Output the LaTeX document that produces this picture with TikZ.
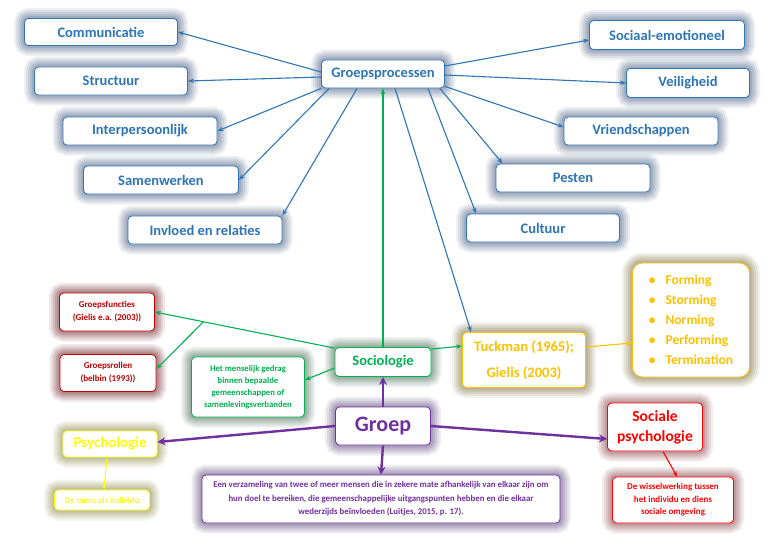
\documentclass[tikz,border=0pt]{standalone}
\usepackage{fontspec}
\setmainfont{Carlito}
\usetikzlibrary{arrows.meta,calc}
\definecolor{bl}{HTML}{2E75B6}
\definecolor{blg}{HTML}{6F809C}
\definecolor{dred}{HTML}{C00000}
\definecolor{redg}{HTML}{8A4E52}
\definecolor{grn}{HTML}{00B050}
\definecolor{grng}{HTML}{6A8874}
\definecolor{gold}{HTML}{FFC000}
\definecolor{goldg}{HTML}{988C60}
\definecolor{purp}{HTML}{7030A0}
\definecolor{purpg}{HTML}{7C6A94}
\definecolor{yel}{HTML}{FFFF00}
\definecolor{yelg}{HTML}{A3A06A}
\definecolor{rd}{HTML}{FF0000}
\definecolor{rdg}{HTML}{A0666A}
\tikzset{
 box/.style={draw, fill=white, rounded corners=4pt, line width=0.8pt, align=center, inner sep=0pt, font=\bfseries},
 glow/.style={preaction={draw=#1,draw opacity=.12,line width=21pt},
              preaction={draw=#1,draw opacity=.15,line width=17pt},
              preaction={draw=#1,draw opacity=.18,line width=13pt},
              preaction={draw=#1,draw opacity=.22,line width=9pt},
              preaction={draw=#1,draw opacity=.28,line width=5pt}},
 bbox/.style={box, draw=bl, text=bl, glow=blg, font=\bfseries\fontsize{14.5}{17}\selectfont},
 barrow/.style={draw=bl, line width=1.1pt, -{Stealth[length=6pt,width=4.5pt]}},
 garrow/.style={draw=grn, line width=1.1pt, -{Stealth[length=6pt,width=4.5pt]}},
 parrow/.style={draw=purp, line width=2.4pt, -{Stealth[length=8pt,width=8pt]}},
}
\begin{document}
\begin{tikzpicture}[x=1pt,y=-1pt]
\useasboundingbox (0,0) rectangle (768,543);
% blue boxes
\node[bbox, minimum width=123pt, minimum height=28pt] (gp) at (383,74) {Groepsprocessen};
\node[bbox, minimum width=153pt, minimum height=27pt] (com) at (101,32) {Communicatie};
\node[bbox, minimum width=153pt, minimum height=28pt] (str) at (111,81) {Structuur};
\node[bbox, minimum width=154pt, minimum height=28pt] (int) at (140,131) {Interpersoonlijk};
\node[bbox, minimum width=155pt, minimum height=28pt] (sam) at (161,180) {Samenwerken};
\node[bbox, minimum width=154pt, minimum height=28pt] (inv) at (205,230) {Invloed en relaties};
\node[bbox, minimum width=155pt, minimum height=29pt] (soc) at (667,35) {Sociaal-emotioneel};
\node[bbox, minimum width=123pt, minimum height=29pt] (vei) at (688,83) {Veiligheid};
\node[bbox, minimum width=154pt, minimum height=28pt] (vri) at (641,131) {Vriendschappen};
\node[bbox, minimum width=154pt, minimum height=28pt] (pes) at (573,178) {Pesten};
\node[bbox, minimum width=153pt, minimum height=28pt] (cul) at (543,228) {Cultuur};
% red boxes
\node[box, draw=dred, text=dred, glow=redg, minimum width=95pt, minimum height=38pt, font=\bfseries\fontsize{9}{13}\selectfont] (gf) at (107,312) {Groepsfuncties\\(Gielis e.a. (2003))};
\node[box, draw=dred, text=dred, glow=redg, minimum width=96pt, minimum height=37pt, font=\bfseries\fontsize{9}{13}\selectfont] (gr) at (108,373) {Groepsrollen\\(belbin (1993))};
% green boxes
\node[box, draw=grn, text=grn, glow=grng, minimum width=113pt, minimum height=60pt, font=\bfseries\fontsize{8.7}{12}\selectfont] (hm) at (248,387) {Het menselijk gedrag\\binnen bepaalde\\gemeenschappen of\\samenlevingsverbanden};
\node[box, draw=grn, text=grn, glow=grng, minimum width=96pt, minimum height=29pt, font=\bfseries\fontsize{14.5}{16}\selectfont] (socio) at (383,362) {Sociologie};
% gold boxes
\node[box, draw=gold, text=gold, glow=goldg, minimum width=123pt, minimum height=55pt, font=\bfseries\fontsize{14.5}{26}\selectfont] (tuck) at (524,360) {Tuckman (1965);\\Gielis (2003)};
\node[box, draw=gold, text=gold, glow=goldg, minimum width=117pt, minimum height=114pt, rounded corners=10pt, align=left, font=\bfseries\fontsize{13.5}{20}\selectfont] (ph) at (691,320) {\textbullet\hspace{10pt}Forming\\\textbullet\hspace{10pt}Storming\\\textbullet\hspace{10pt}Norming\\\textbullet\hspace{10pt}Performing\\\textbullet\hspace{10pt}Termination};
% purple
\node[box, draw=purp, text=purp, glow=purpg, minimum width=95pt, minimum height=38pt, font=\bfseries\fontsize{22}{24}\selectfont] (groep) at (383,426) {Groep};
\node[box, draw=purp, text=purp, glow=purpg, minimum width=358pt, minimum height=48pt, font=\bfseries\fontsize{8.8}{13.5}\selectfont] (def) at (381,499) {Een verzameling van twee of meer mensen die in zekere mate afhankelijk van elkaar zijn om\\hun doel te bereiken, die gemeenschappelijke uitgangspunten hebben en die elkaar\\wederzijds beïnvloeden (Luitjes, 2015, p. 17).};
% yellow
\node[box, draw=yel, text=yel, glow=yelg, minimum width=94pt, minimum height=26pt, font=\bfseries\fontsize{15}{16}\selectfont] (psy) at (110,444) {Psychologie};
\node[box, draw=yel, text=yel, glow=yelg, minimum width=95pt, minimum height=20pt, font=\bfseries\fontsize{8.7}{9}\selectfont] (mi) at (102,500) {De mens als individu};
% red bright
\node[box, draw=rd, text=rd, glow=rdg, minimum width=95pt, minimum height=48pt, font=\bfseries\fontsize{15.5}{20}\selectfont] (sp) at (655,427) {Sociale\\psychologie};
\node[box, draw=rd, text=rd, glow=rdg, minimum width=121pt, minimum height=46pt, font=\bfseries\fontsize{9}{12.5}\selectfont] (ww) at (673,500) {De wisselwerking tussen\\het individu en diens\\sociale omgeving};
% blue arrows
\draw[barrow] ([yshift=2pt]gp.west) -- (com.east);
\draw[barrow] ([yshift=-3pt]gp.west) -- (str.east);
\draw[barrow] (gp.south west) -- (int.east);
\draw[barrow] ([xshift=8pt]gp.south west) -- (sam.east);
\draw[barrow] ([xshift=36pt]gp.south west) -- (inv.north east);
\draw[barrow] ([yshift=8pt]gp.east) -- ([yshift=-5pt]soc.west);
\draw[barrow] ([yshift=-1pt]gp.east) -- (vei.west);
\draw[barrow] ([yshift=2pt]gp.south east) -- ([yshift=4pt]vri.west);
\draw[barrow] ([xshift=-5pt]gp.south east) -- ([xshift=7pt]pes.north west);
\draw[barrow] ([xshift=45pt]gp.south) -- ([xshift=10pt]cul.north west);
\draw[barrow] ([xshift=12pt]gp.south) -- ([xshift=9pt]tuck.north west);
% green arrows
\draw[garrow] (socio.north) -- (gp.south);
\draw[garrow] ([yshift=-1pt]socio.north west) -- (gf.east);
\coordinate (br) at ($([yshift=-1pt]socio.north west)!0.73!(gf.east)$);
\draw[garrow] (br) -- ([yshift=4pt]gr.east);
\draw[garrow] ([yshift=-6pt]socio.west) -- ([yshift=7pt]hm.east);
\draw[garrow] ([yshift=-2pt]socio.north east) -- ([yshift=14pt]tuck.west);
% gold arrow
\draw[draw=gold, line width=1.1pt, -{Stealth[length=6pt,width=4.5pt]}] ([yshift=13pt]tuck.east) -- ([yshift=-23pt]ph.west);
% purple arrows
\draw[parrow] (groep.north) -- (socio.south);
\draw[parrow] (groep.west) -- ([yshift=2pt]psy.east);
\draw[parrow] (groep.east) -- ([yshift=-12pt]sp.west);
\draw[parrow] (groep.south) -- (def.north);
% yellow / red
\draw[draw=yel, line width=1pt, -{Stealth[length=4pt,width=3pt]}] ([xshift=-3pt]psy.south) -- ([xshift=2pt]mi.north);
\draw[draw=rd, line width=1.1pt, -{Stealth[length=5pt,width=4pt]}] ([xshift=8pt]sp.south) -- ([xshift=4pt]ww.north);
\end{tikzpicture}
\end{document}
